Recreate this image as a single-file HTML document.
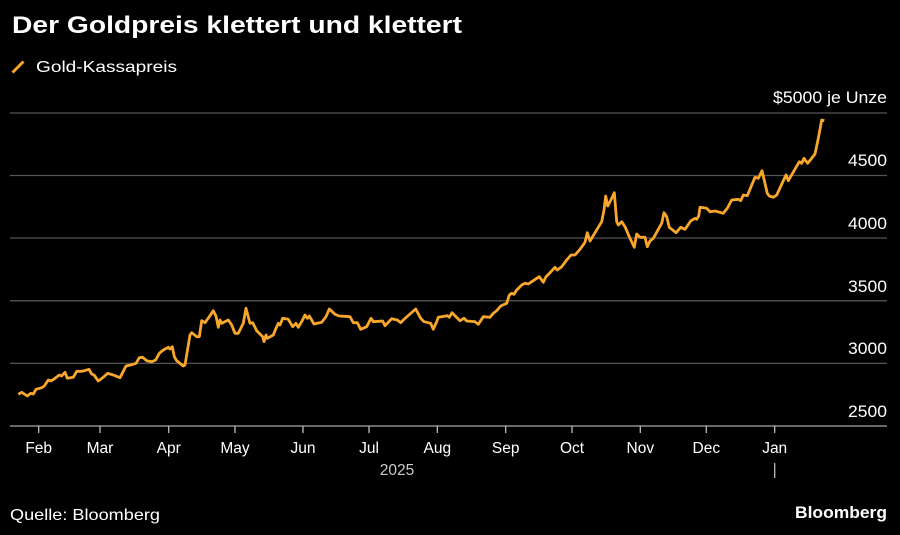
<!DOCTYPE html>
<html><head><meta charset="utf-8"><style>
html,body{margin:0;padding:0;background:#000;}
svg{display:block;}
text{font-family:"Liberation Sans",sans-serif;fill:#fff;}
</style></head><body>
<svg width="900" height="535" viewBox="0 0 900 535" xmlns="http://www.w3.org/2000/svg">
<rect width="900" height="535" fill="#000"/>
<text x="12" y="33" font-size="24" font-weight="bold" textLength="450" lengthAdjust="spacingAndGlyphs">Der Goldpreis klettert und klettert</text>
<line x1="12.5" y1="72.5" x2="23.5" y2="61.5" stroke="#f9a72c" stroke-width="3"/>
<text x="36" y="72" font-size="16" textLength="141" lengthAdjust="spacingAndGlyphs">Gold-Kassapreis</text>
<g stroke="#555" stroke-width="1.3">
<line x1="10" y1="113" x2="887" y2="113"/>
<line x1="10" y1="175.5" x2="887" y2="175.5"/>
<line x1="10" y1="238" x2="887" y2="238"/>
<line x1="10" y1="300.8" x2="887" y2="300.8"/>
<line x1="10" y1="363.4" x2="887" y2="363.4"/>
</g>
<line x1="10" y1="426" x2="887" y2="426" stroke="#8a8a8a" stroke-width="1.5"/>
<g font-size="17" text-anchor="end">
<text x="887" y="103" textLength="114" lengthAdjust="spacingAndGlyphs">$5000 je Unze</text>
<text x="887" y="166" textLength="39" lengthAdjust="spacingAndGlyphs">4500</text>
<text x="887" y="229" textLength="39" lengthAdjust="spacingAndGlyphs">4000</text>
<text x="887" y="292" textLength="39" lengthAdjust="spacingAndGlyphs">3500</text>
<text x="887" y="354" textLength="39" lengthAdjust="spacingAndGlyphs">3000</text>
<text x="887" y="417" textLength="39" lengthAdjust="spacingAndGlyphs">2500</text>
</g>
<g stroke="#bbb" stroke-width="1.3">
<line x1="38.7" y1="426" x2="38.7" y2="433"/>
<line x1="100" y1="426" x2="100" y2="433"/>
<line x1="168.7" y1="426" x2="168.7" y2="433"/>
<line x1="235" y1="426" x2="235" y2="433"/>
<line x1="303" y1="426" x2="303" y2="433"/>
<line x1="369" y1="426" x2="369" y2="433"/>
<line x1="437.3" y1="426" x2="437.3" y2="433"/>
<line x1="505.7" y1="426" x2="505.7" y2="433"/>
<line x1="572" y1="426" x2="572" y2="433"/>
<line x1="640.3" y1="426" x2="640.3" y2="433"/>
<line x1="706.3" y1="426" x2="706.3" y2="433"/>
<line x1="774.7" y1="426" x2="774.7" y2="433"/>
<line x1="774.7" y1="463" x2="774.7" y2="478"/>
</g>
<g font-size="15.5" text-anchor="middle">
<text x="38.7" y="453">Feb</text>
<text x="100" y="453">Mar</text>
<text x="168.7" y="453">Apr</text>
<text x="235" y="453">May</text>
<text x="303" y="453">Jun</text>
<text x="369" y="453">Jul</text>
<text x="437.3" y="453">Aug</text>
<text x="505.7" y="453">Sep</text>
<text x="572" y="453">Oct</text>
<text x="640.3" y="453">Nov</text>
<text x="706.3" y="453">Dec</text>
<text x="774.7" y="453">Jan</text>
<text x="397" y="475" style="fill:#ccc">2025</text>
</g>
<text x="10" y="520" font-size="16" textLength="150" lengthAdjust="spacingAndGlyphs">Quelle: Bloomberg</text>
<text x="887" y="518" font-size="17" font-weight="bold" text-anchor="end" textLength="92" lengthAdjust="spacingAndGlyphs">Bloomberg</text>
<polyline fill="none" stroke="#f9a72c" stroke-width="2.8" stroke-linejoin="round" stroke-linecap="butt" points="
18.3,394.3 21.7,392.3 27.3,396 30.7,393.3 33.3,394 36,389.3 41.7,387.7 44.3,386 48.3,380 51,381 55,378.3 59.3,375 61.7,376 65,372.3 67.3,378.3 73.3,377.3 76.7,371.3 80.7,371.3 83.3,371 89,369.3 91.7,374 94,375 98.3,381 103.3,377.3 107.7,373.3 113.3,375 120,377.7 126,366 130.7,365 136,363.3 139.3,357.7 142.7,357.3 146.7,360.7 151.7,361.7 155.7,360 159.3,353.3 163.3,350 168.3,347.3 170,349 172.3,346.7 174.3,356.7 176.7,360.7 180.7,364 183.3,366 185,365 190,335 191.7,332.7 196.7,336.7 199.3,336.7 201.7,320.7 205,322.7 209.3,316.7 213.3,310.7 216,316 218.3,327.3 220,320 221.7,323.3 228.3,320 231.7,325 235,333.3 238.3,333.3 243.3,323.3 246,308.3 250,323.3
252.7,322.7 256.7,330.7 260,334 262.7,336.7 264,341.7 266,335 267.3,338.3 273.3,335 276,328.3 278.3,323.3 280,325 282.7,318.3 288.3,319.3 292.7,326.7 296,323.3 298.3,327.3 301.7,321.7 305,315 307.3,318.3 309.3,316 314,324 321.7,322.3 326,316.7 329.3,309 335,314.3 339.3,316 350,316.7 353.3,322.7 357.3,322.7 360.7,329.3 366.7,326.7 371,318.3 373.3,321.7 382.7,321 385,325.7 391.7,318.7 397.3,320 400.7,322.7 403.3,320 410,314 415.7,309 420.7,318.3 424,321.7 430.7,323.3 433.3,329.3 436.7,321.7 438.3,317.3 447.3,315.7 449.3,317.3 452,312.7 460,320.7 464,318.3 466.7,321 475,321.7 478.3,324.3
483.3,316.7 490,317.3 493.3,313.3 496.7,310.7 500.7,306 506.7,303.3 509.3,295 511.7,293.3 514,294.3 516.7,290 521.7,285 525,283.3 528.3,284 531.7,281.7 539.3,276.7 543.3,282.3 546,276.7 550,272.7 555,267.3 557.3,270 561.7,266.7 566.7,260 571,255 575,255 580,249.3 585,242.3 587.3,232.7 590,241 595,232.7 601.7,221.7 604,210 605.7,196 607.7,206 611.7,198.3 614.3,192.7 616.7,221.7 618.3,225 621.7,221.7 625,226.7 630,238.3 634.3,247.3 636.7,234 640,237.3 645,237.3 647.3,246.7 650,241 653.3,238.3
658.3,229.3 661.7,223.3 664,212.7 666.7,216.7 669.3,227.3 676,232.7 680.7,227.3 685,229.3 690.7,221 695,218.3 696.7,219.3 698.7,216 700,207.3 706.7,208.3 710,211.7 715,211 723.3,213.3 727.3,208.3 731.7,200 738.3,199.3 740.7,200.7 743.3,195 747.3,195.7 755,177.3 758.3,178.3 762,170.7 767.3,193.3 769.3,196 773.3,197.3 776.7,195 786,175 788.3,180.7 799.3,161.7 801.7,163.3 804,158.3 807.7,163.3 815,154 818.3,138.3 821.7,120 824.3,120.7"/>
</svg>
</body></html>
